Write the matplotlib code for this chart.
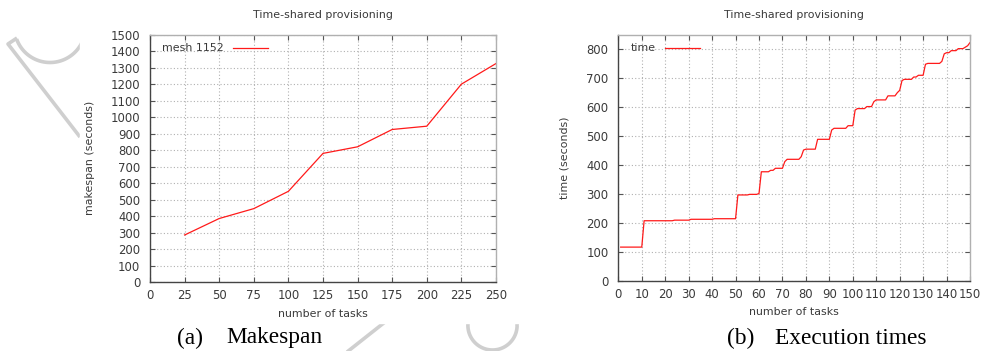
import matplotlib
matplotlib.use("Agg")
import matplotlib.pyplot as plt
import numpy as np
from matplotlib.patches import Rectangle

# makespan for the mesh 1152 runs
n_tasks = [25, 50, 75, 100, 125, 150, 175, 200, 225, 250]
makespan = [285, 385, 445, 550, 780, 820, 925, 945, 1200, 1325]

# per-task completion times, tasks 1..150
task_ids = list(range(1, 151))
exec_time = [
    117, 117, 117, 117, 117, 117, 117, 117, 117, 117,
    208, 208, 208, 208, 208, 208, 208, 208, 208, 208,
    208, 208, 208, 210, 210, 210, 210, 210, 210, 210,
    213, 213, 213, 213, 213, 213, 213, 213, 213, 213,
    215, 215, 215, 215, 215, 215, 215, 215, 215, 215,
    297, 297, 297, 297, 297, 299, 299, 299, 299, 302,
    377, 377, 377, 377, 382, 382, 389, 389, 389, 389,
    412, 420, 420, 420, 420, 420, 420, 429, 452, 455,
    455, 455, 455, 455, 489, 489, 489, 489, 489, 489,
    521, 527, 527, 527, 527, 527, 527, 536, 536, 536,
    590, 595, 595, 595, 595, 602, 602, 602, 619, 625,
    625, 625, 625, 625, 639, 639, 639, 639, 650, 658,
    692, 696, 696, 696, 696, 704, 704, 710, 710, 710,
    748, 751, 751, 751, 751, 751, 751, 758, 784, 788,
    788, 795, 795, 795, 802, 802, 802, 807, 812, 823,
]

left_xticks = list(range(0, 251, 25))
left_yticks = list(range(0, 1501, 100))
right_xticks = list(range(0, 151, 10))
right_yticks = list(range(0, 801, 100))

TXT = "#3a3a3a"
RED = "#ff1a1a"
FS = 7.9       # titles, axis labels, legend
TICK_FS = 8.4  # tick labels

fig = plt.figure(figsize=(9.81, 3.51), dpi=100)

# page background with the faint gray marks behind the plots
bg = fig.add_axes([0, 0, 1, 1], zorder=-5)
bg.set_xlim(0, 981)
bg.set_ylim(351, 0)
bg.axis("off")
wm = dict(color="#cfcfcf", lw=2.6, solid_capstyle="butt")
bg.plot([17, 8, 80], [38, 44, 137], **wm)
t = np.radians(np.linspace(160, -10, 80))
bg.plot(50 + 35.5 * np.cos(t), 27 + 35.5 * np.sin(t), **wm)
bg.plot([347, 385], [352, 322], **wm)
t = np.radians(np.linspace(0, 360, 120))
bg.plot(492.5 + 24.6 * np.cos(t), 325.4 + 24.6 * np.sin(t), **wm)
bg.add_patch(Rectangle((80, -1), 450, 324, color="white", zorder=3))
bg.add_patch(Rectangle((545, -1), 440, 324, color="white", zorder=3))


def style_axes(ax, xticks, yticks):
    ax.set_xticks(xticks)
    ax.set_yticks(yticks)
    ax.grid(True, color="#b0b0b0", lw=0.8, ls=(0, (1, 2)))
    ax.tick_params(direction="in", length=3.5, width=0.8, colors="#555555",
                   labelcolor=TXT, labelsize=TICK_FS, top=True, right=True)
    ax.tick_params(axis="x", pad=5)
    ax.tick_params(axis="y", pad=7)
    for side in ("left", "bottom"):
        ax.spines[side].set_color("#444444")
        ax.spines[side].set_linewidth(1.0)
    for side in ("top", "right"):
        ax.spines[side].set_color("#b0b0b0")
        ax.spines[side].set_linewidth(1.0)


# (a) makespan
ax1 = fig.add_axes([0.1529, 0.1966, 0.3527, 0.7046])
ax1.plot(n_tasks, makespan, color=RED, lw=0.9, label="mesh 1152")
ax1.set_xlim(0, 250)
ax1.set_ylim(0, 1500)
style_axes(ax1, left_xticks, left_yticks)
ax1.set_xlabel("number of tasks", fontsize=FS, color=TXT)
ax1.set_ylabel("makespan (seconds)", fontsize=FS, color=TXT)
ax1.xaxis.set_label_coords(0.5, -0.128)
ax1.yaxis.set_label_coords(-0.173, 0.5)
ax1.xaxis.label.set_va("center")
ax1.yaxis.label.set_va("center")
ax1.text(0.5, 1.081, "Time-shared provisioning", transform=ax1.transAxes,
         ha="center", va="center", fontsize=FS, color=TXT)
ax1.legend(loc="upper left", bbox_to_anchor=(0.01, 1.0), frameon=False,
           markerfirst=False, fontsize=FS, handlelength=3.2, handletextpad=0.8,
           borderpad=0.3, labelcolor=TXT)

# (b) execution times
ax2 = fig.add_axes([0.6303, 0.1994, 0.3585, 0.7017])
ax2.plot(task_ids, exec_time, color=RED, lw=0.9, label="time")
ax2.set_xlim(0, 150)
ax2.set_ylim(0, 850)
style_axes(ax2, right_xticks, right_yticks)
ax2.set_xlabel("number of tasks", fontsize=FS, color=TXT)
ax2.set_ylabel("time (seconds)", fontsize=FS, color=TXT)
ax2.xaxis.set_label_coords(0.5, -0.124)
ax2.yaxis.set_label_coords(-0.152, 0.5)
ax2.xaxis.label.set_va("center")
ax2.yaxis.label.set_va("center")
ax2.text(0.5, 1.081, "Time-shared provisioning", transform=ax2.transAxes,
         ha="center", va="center", fontsize=FS, color=TXT)
ax2.legend(loc="upper left", bbox_to_anchor=(0.01, 1.0), frameon=False,
           markerfirst=False, fontsize=FS, handlelength=3.2, handletextpad=0.8,
           borderpad=0.3, labelcolor=TXT)

# subfigure captions
cap = dict(fontsize=16.8, family="Liberation Serif", color="black",
           va="center", ha="left")
fig.text(177 / 981, 1 - 338 / 351, "(a)", **cap)
fig.text(226 / 981, 1 - 338 / 351, "Makespan", **cap)
fig.text(727 / 981, 1 - 338 / 351, "(b)", **cap)
fig.text(775 / 981, 1 - 338 / 351, "Execution times", **cap)

fig.savefig("out.png", dpi=100)
